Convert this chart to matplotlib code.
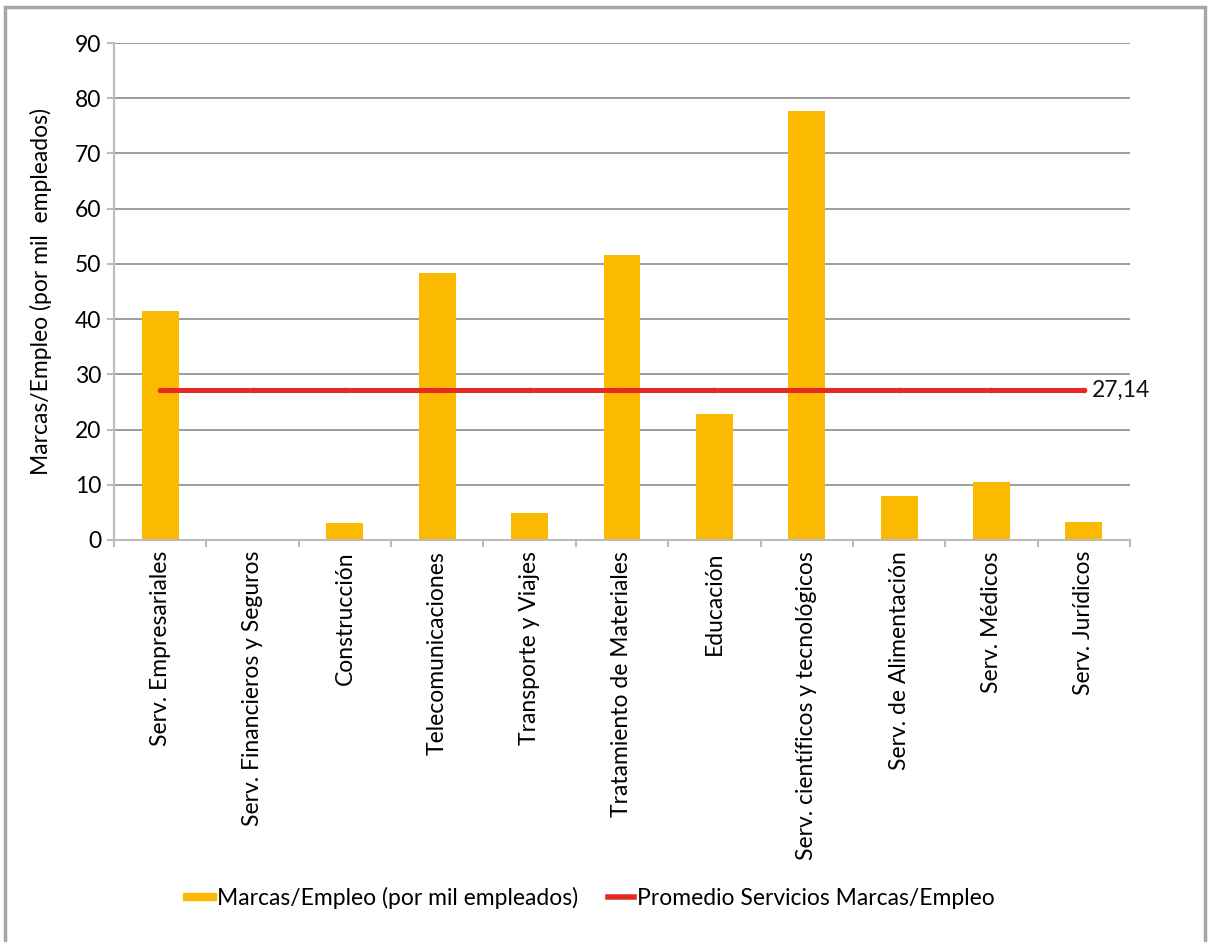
import matplotlib
matplotlib.use("Agg")
import matplotlib.pyplot as plt
from matplotlib.lines import Line2D
from matplotlib.patches import Rectangle
import numpy as np

plt.rcParams['font.family'] = ['Lato', 'DejaVu Sans']

categories = [
    "Serv. Empresariales",
    "Serv. Financieros y Seguros",
    "Construcción",
    "Telecomunicaciones",
    "Transporte y Viajes",
    "Tratamiento de Materiales",
    "Educación",
    "Serv. científicos y tecnológicos",
    "Serv. de Alimentación",
    "Serv. Médicos",
    "Serv. Jurídicos",
]
marcas_empleo = [41.5, 0.0, 3.1, 48.4, 4.9, 51.6, 22.8, 77.7, 8.0, 10.5, 3.3]
promedio = 27.14
yticks = list(range(0, 100, 10))

bar_color = "#FBBA00"
line_color = "#E52A24"
FS = 16.5

fig = plt.figure(figsize=(12.08, 9.42), dpi=100)
ax = fig.add_axes([114 / 1208, 1 - 540 / 942, (1130 - 114) / 1208, (540 - 43) / 942])

x = np.arange(len(categories))
ax.bar(x, marcas_empleo, width=0.4, color=bar_color, zorder=2)
ax.plot(x, [promedio] * len(x), color=line_color, lw=3.6, zorder=3,
        marker='o', markersize=3, solid_capstyle='butt')
ax.text(x[-1] + 0.09, promedio, f"{promedio:.2f}".replace(".", ","), va='center', ha='left',
        fontsize=FS, color="#111111")

ax.set_xlim(-0.5, len(categories) - 0.5)
ax.set_ylim(0, 90)
ax.set_yticks(yticks)
ax.set_yticklabels([str(t) for t in yticks], fontsize=FS)
ax.yaxis.grid(True, color="#8c8c8c", lw=1.2, zorder=0)
ax.set_axisbelow(True)

ax.set_xticks(x)
ax.set_xticklabels(categories, rotation=90, fontsize=FS)
ax.tick_params(axis='x', length=0, pad=8)
ax.set_xticks(np.arange(-0.5, len(categories), 1.0), minor=True)
ax.tick_params(axis='x', which='minor', length=5, color="#bbbbbb", width=1.5)
ax.tick_params(axis='y', length=5, color="#bbbbbb", width=1.5, pad=4)

for s in ['top', 'right']:
    ax.spines[s].set_visible(False)
for s in ['left', 'bottom']:
    ax.spines[s].set_color("#bbbbbb")
    ax.spines[s].set_linewidth(1.5)

ax.set_ylabel("Marcas/Empleo (por mil  empleados)", fontsize=FS)
ax.yaxis.set_label_coords(-62 / 1016, 0.5)

handles = [
    Line2D([0], [0], color=bar_color, lw=6),
    Line2D([0], [0], color=line_color, lw=4),
]
fig.legend(handles, ["Marcas/Empleo (por mil empleados)", "Promedio Servicios Marcas/Empleo"],
           loc='center', bbox_to_anchor=(591 / 1208, 1 - 898 / 942), ncol=2, frameon=False,
           fontsize=FS, handlelength=1.15, handletextpad=0.15, columnspacing=1.3)

fig.patches.append(Rectangle((5 / 1208, -0.01), (1205 - 5) / 1208, 1 - 7 / 942 + 0.01,
                             transform=fig.transFigure, fill=False,
                             edgecolor="#a6a6a6", lw=2.5))

fig.savefig("out.png", dpi=100)
